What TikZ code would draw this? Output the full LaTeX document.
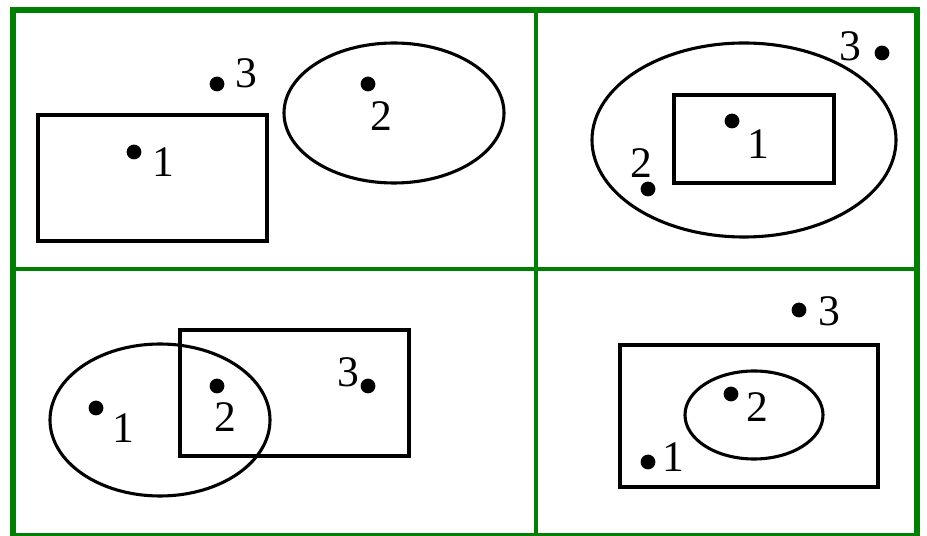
\documentclass[tikz,border=0pt]{standalone}
\usepackage{fontspec}
\setmainfont{Liberation Serif}
\usepackage{tikz}
\usetikzlibrary{positioning}
\definecolor{frame}{RGB}{0,128,0}

\begin{document}
\begin{tikzpicture}[x=0.025cm,y=-0.025cm,
  font=\fontsize{31}{31}\selectfont,
  dot/.style={circle,fill=black,inner sep=0pt,minimum size=0.37cm},
  num/.style={inner sep=0pt},
  set/.style={draw=black,line width=2.2pt}]
\useasboundingbox (0,0) rectangle (927,536);
% frame
\draw[frame,line width=2.2pt] (536,10) -- (536,536);
\draw[frame,line width=2.2pt] (13,269) -- (917,269);
\draw[frame,line width=2.2pt] (13,535) -- (917,535);
\draw[frame,line width=4.4pt] (13,10) rectangle (917,539);
% top left
\draw[set] (38,115) rectangle (267,241);
\draw[set] (394,113) ellipse [x radius=110,y radius=70];
\node[dot] (a1) at (134,152) {};
\node[num] (la1) at (163,162) {1};
\node[dot] (a2) at (368,84) {};
\node[num] (la2) at (381,116) {2};
\node[dot] (a3) at (217,84) {};
\node[num] (la3) at (246,73) {3};
% top right
\draw[set] (744,140) ellipse [x radius=152,y radius=97];
\draw[set] (674,95) rectangle (834,183);
\node[dot] (b1) at (732,121) {};
\node[num] (lb1) at (758,144) {1};
\node[dot] (b2) at (648,189) {};
\node[num] (lb2) at (641,163) {2};
\node[dot] (b3) at (882,53) {};
\node[num] (lb3) at (850,46) {3};
% bottom left
\draw[set] (160,420) ellipse [x radius=110,y radius=76];
\draw[set] (180,330) rectangle (409,456);
\node[dot] (c1) at (96,408) {};
\node[num] (lc1) at (123,428) {1};
\node[dot] (c2) at (217,386) {};
\node[num] (lc2) at (225,417) {2};
\node[dot] (c3) at (368,386) {};
\node[num] (lc3) at (348,372) {3};
% bottom right
\draw[set] (620,345) rectangle (878,487);
\draw[set] (754,415) ellipse [x radius=69,y radius=44];
\node[dot] (d1) at (648,462) {};
\node[num] (ld1) at (673,457) {1};
\node[dot] (d2) at (731,394) {};
\node[num] (ld2) at (757,407) {2};
\node[dot] (d3) at (799,310) {};
\node[num] (ld3) at (829,311) {3};
\end{tikzpicture}
\end{document}
